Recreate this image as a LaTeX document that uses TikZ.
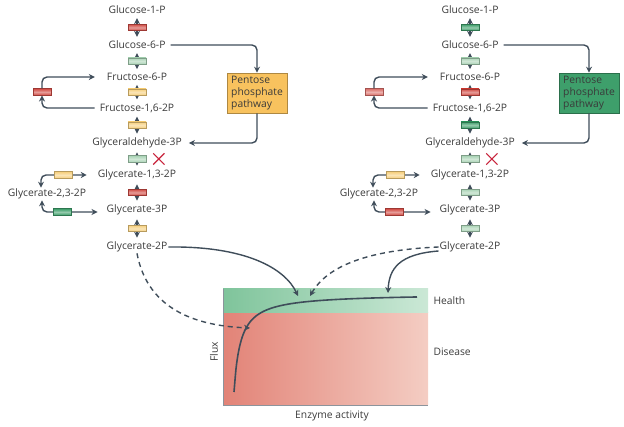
\documentclass[tikz,border=0pt]{standalone}
\usepackage{fontspec}
\setmainfont{Open Sans}
\usetikzlibrary{positioning,arrows.meta,shapes.misc}
\definecolor{txtgray}{HTML}{3A3A3A}
\definecolor{arrgray}{HTML}{3F4D5A}
\definecolor{enzred}{HTML}{D14B44}
\definecolor{enzpale}{HTML}{A9D3B5}
\definecolor{enzgreen}{HTML}{3C9E69}
\definecolor{enzyellow}{HTML}{F6CF7C}
\definecolor{pppyellow}{HTML}{F8C25E}
\definecolor{pppgreen}{HTML}{3E9F6B}
\definecolor{crossred}{HTML}{C8243C}
\definecolor{healthdark}{HTML}{7FC49B}
\definecolor{healthlight}{HTML}{CBE8D6}
\definecolor{diseasedark}{HTML}{E28377}
\definecolor{diseaselight}{HTML}{F4CDC3}
\tikzset{
  met/.style={text=txtgray, font=\fontsize{10.3}{12}\selectfont, inner sep=1pt},
  enz/.style={sharp corners, draw=#1!75!black, top color=#1, bottom color=#1, middle color=#1!55!white, line width=0.5pt, minimum width=18pt, minimum height=6.5pt, inner sep=0pt},
  flow/.style={draw=arrgray, line width=1.4pt, -{Stealth[length=6pt,width=6pt]}},
  twoway/.style={flow, {Stealth[length=6pt,width=6pt]}-{Stealth[length=6pt,width=6pt]}, shorten <=3pt, shorten >=3pt},
  ppp/.style={draw=#1!70!black, fill=#1, line width=0.6pt, minimum width=60pt, minimum height=40pt, inner sep=2pt, align=left, text=txtgray, font=\fontsize{10.3}{12}\selectfont},
  block/.style={draw=crossred, cross out, line width=1.2pt, minimum size=10pt, inner sep=0pt},
  lbl/.style={text=txtgray, font=\fontsize{10.3}{12}\selectfont},
  guess/.style={dash pattern=on 5pt off 4pt},
}
\begin{document}
\begin{tikzpicture}[x=1pt,y=-1pt]
  \useasboundingbox (0,0) rectangle (624,427);
  % column centres
  \def\lx{137}
  \def\rx{470}

  % ---- left pathway
  \node[met] (Lg1p) at (\lx,10) {Glucose-1-P};
  \node[met] (Lg6p) at (\lx,45) {Glucose-6-P};
  \node[met] (Lf6p) at (\lx,77) {Fructose-6-P};
  \node[met] (Lf16) at (\lx,108) {Fructose-1,6-2P};
  \node[met] (Lga3p) at (\lx,143) {Glyceraldehyde-3P};
  \node[met] (Lg13) at (\lx,175) {Glycerate-1,3-2P};
  \node[met] (Lg3p) at (\lx,210) {Glycerate-3P};
  \node[met] (Lg2p) at (\lx,247) {Glycerate-2P};
  \node[met] (Lg23) at (47,194) {Glycerate-2,3-2P};
  \node[ppp=pppyellow] (Lppp) at (257,93) {Pentose\\phosphate\\pathway};

  \draw[twoway] (Lg1p) -- (Lg6p) node[midway, enz=enzred] {};
  \draw[twoway] (Lg6p) -- (Lf6p) node[midway, enz=enzpale] {};
  \draw[twoway] (Lf6p) -- (Lf16) node[midway, enz=enzyellow] {};
  \draw[twoway] (Lf16) -- (Lga3p) node[midway, enz=enzyellow] {};
  \draw[twoway] (Lga3p) -- (Lg13) node[midway, enz=enzpale] (Lgapdh) {};
  \draw[twoway] (Lg13) -- (Lg3p) node[midway, enz=enzred] {};
  \draw[twoway] (Lg3p) -- (Lg2p) node[midway, enz=enzyellow] {};
  \node[block, right=7pt of Lgapdh] (Lcross) {};

  % fructose bypass
  \node[enz=enzred] (Lfbp) at (42,92) {};
  \draw[flow, shorten <=4pt, rounded corners=5pt] (Lf16.west) -| (Lfbp);
  \draw[flow, shorten >=11pt, rounded corners=5pt] (Lfbp) |- (Lf6p.west);

  % glycerate-2,3-2P shunt
  \draw[twoway, shorten <=0pt, shorten >=10pt, rounded corners=5pt] ([xshift=-6pt]Lg23.north) |- (Lg13.west) node[pos=0.7, enz=enzyellow] {};
  \draw[twoway, shorten <=0pt, shorten >=8pt, rounded corners=5pt] ([xshift=-5pt]Lg23.south) |- ([yshift=-2pt]Lg3p.west) node[pos=0.66, enz=enzgreen] {};

  % pentose phosphate pathway
  \draw[flow, shorten <=4pt, rounded corners=5pt] (Lg6p.east) -| (Lppp.north);
  \draw[flow, shorten >=6pt, rounded corners=5pt] (Lppp.south) |- (Lga3p.east);

  % ---- right pathway
  \node[met] (Rg1p) at (\rx,10) {Glucose-1-P};
  \node[met] (Rg6p) at (\rx,45) {Glucose-6-P};
  \node[met] (Rf6p) at (\rx,77) {Fructose-6-P};
  \node[met] (Rf16) at (\rx,108) {Fructose-1,6-2P};
  \node[met] (Rga3p) at (\rx,143) {Glyceraldehyde-3P};
  \node[met] (Rg13) at (\rx,175) {Glycerate-1,3-2P};
  \node[met] (Rg3p) at (\rx,210) {Glycerate-3P};
  \node[met] (Rg2p) at (\rx,247) {Glycerate-2P};
  \node[met] (Rg23) at (379,194) {Glycerate-2,3-2P};
  \node[ppp=pppgreen] (Rppp) at (589,93) {Pentose\\phosphate\\pathway};

  \draw[twoway] (Rg1p) -- (Rg6p) node[midway, enz=enzgreen] {};
  \draw[twoway] (Rg6p) -- (Rf6p) node[midway, enz=enzpale] {};
  \draw[twoway] (Rf6p) -- (Rf16) node[midway, enz=enzred] {};
  \draw[twoway] (Rf16) -- (Rga3p) node[midway, enz=enzgreen] {};
  \draw[twoway] (Rga3p) -- (Rg13) node[midway, enz=enzpale] (Rgapdh) {};
  \draw[twoway] (Rg13) -- (Rg3p) node[midway, enz=enzpale] {};
  \draw[twoway] (Rg3p) -- (Rg2p) node[midway, enz=enzpale] {};
  \node[block, right=7pt of Rgapdh] (Rcross) {};

  \node[enz=enzred!80!white] (Rfbp) at (374,92) {};
  \draw[flow, shorten <=4pt, rounded corners=5pt] (Rf16.west) -| (Rfbp);
  \draw[flow, shorten >=11pt, rounded corners=5pt] (Rfbp) |- (Rf6p.west);

  \draw[twoway, shorten <=0pt, shorten >=10pt, rounded corners=5pt] ([xshift=-6pt]Rg23.north) |- (Rg13.west) node[pos=0.7, enz=enzyellow] {};
  \draw[twoway, shorten <=0pt, shorten >=8pt, rounded corners=5pt] ([xshift=-5pt]Rg23.south) |- ([yshift=-2pt]Rg3p.west) node[pos=0.66, enz=enzred] {};

  \draw[flow, shorten <=4pt, rounded corners=5pt] (Rg6p.east) -| (Rppp.north);
  \draw[flow, shorten >=6pt, rounded corners=5pt] (Rppp.south) |- (Rga3p.east);

  % ---- flux versus enzyme activity
  \shade[left color=diseasedark, right color=diseaselight] (223,313) rectangle (428,405);
  \shade[left color=healthdark, right color=healthlight] (223,289) rectangle (428,313);
  \draw[arrgray!60, line width=0.5pt] (223,289) -- (223,405) -- (428,405);
  \draw[arrgray, line width=1.6pt] plot[domain=0:183, samples=90, smooth] ({234+\x},{392-98.4*(\x/(6.5+\x))});
  \node[lbl, anchor=west] (health) at (430,301) {Health};
  \node[lbl, anchor=west] (disease) at (430,352) {Disease};
  \node[lbl, rotate=90] (flux) at (214,352) {Flux};
  \node[lbl] (activity) at (332,416) {Enzyme activity};

  % where each glycerate-2P lands on the curve
  \coordinate (Lhit) at (298,296);
  \coordinate (Llow) at (250,328);
  \coordinate (Rhit) at (388,293);
  \coordinate (Rmid) at (310,296);
  \draw[flow] (Lg2p.east) .. controls (245,246) and (285,268) .. (Lhit);
  \draw[flow, guess] (Lg2p.south) .. controls (148,312) and (200,326) .. (Llow);
  \draw[flow, guess] (Rg2p.west) .. controls (370,250) and (328,265) .. (Rmid);
  \draw[flow] ([yshift=-4pt]Rg2p.west) .. controls (400,254) and (389,268) .. (Rhit);
\end{tikzpicture}
\end{document}
